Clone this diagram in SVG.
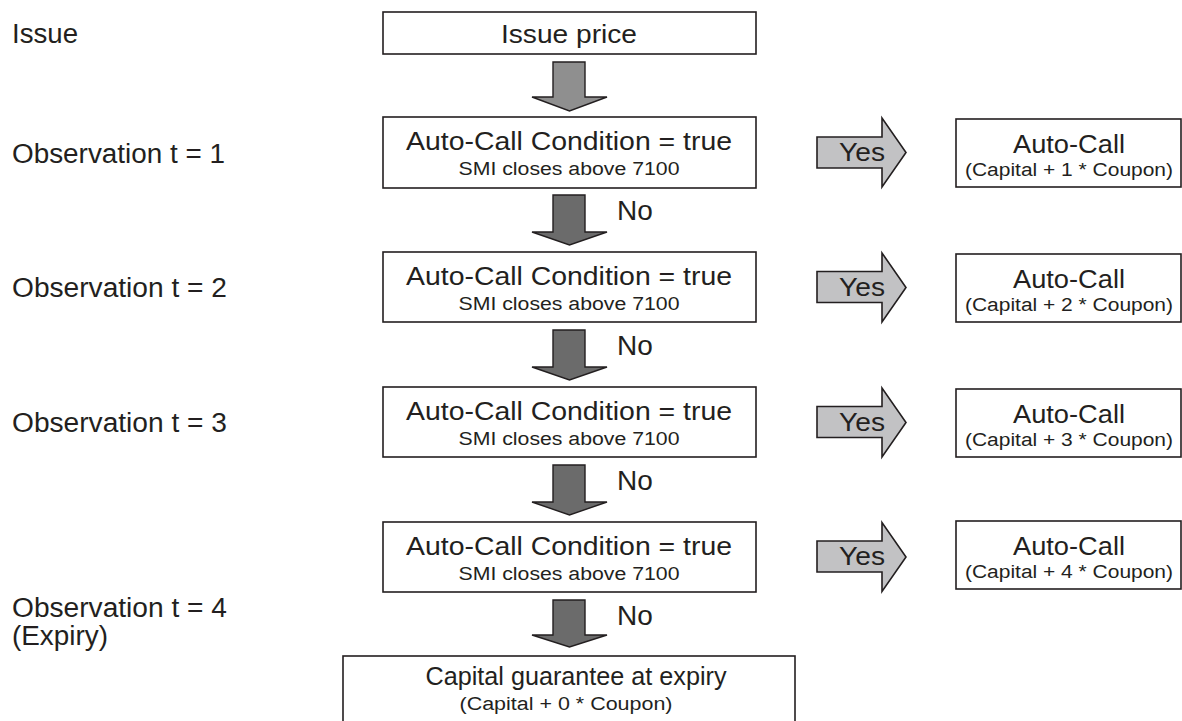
<svg xmlns="http://www.w3.org/2000/svg" width="1182" height="721" viewBox="0 0 1182 721">
<style>
text{font-family:"Liberation Sans",Arial,Helvetica,sans-serif;fill:#231f20}
.lbl{font-size:27px}
.big{font-size:26px;text-anchor:middle}
.sm{font-size:18px;text-anchor:middle}
.box{fill:#fff;stroke:#231f20;stroke-width:1.6}
.dn{fill:#6b6b6b;stroke:#231f20;stroke-width:1.4;stroke-linejoin:miter}
.dn1{fill:#8f8f8f;stroke:#231f20;stroke-width:1.4}
.yes{fill:#c2c2c4;stroke:#231f20;stroke-width:1.6}
.no{font-size:28px}
</style>
<rect width="1182" height="721" fill="#fff"/>
<g id="labels">
<text class="lbl" x="12" y="43" textLength="66" lengthAdjust="spacingAndGlyphs">Issue</text>
<text class="lbl" x="12" y="163" textLength="213" lengthAdjust="spacingAndGlyphs">Observation t = 1</text>
<text class="lbl" x="12" y="297" textLength="215" lengthAdjust="spacingAndGlyphs">Observation t = 2</text>
<text class="lbl" x="12" y="432" textLength="215" lengthAdjust="spacingAndGlyphs">Observation t = 3</text>
<text class="lbl" x="12" y="617" textLength="215" lengthAdjust="spacingAndGlyphs">Observation t = 4</text>
<text class="lbl" x="12" y="645" textLength="96" lengthAdjust="spacingAndGlyphs">(Expiry)</text>
</g>
<g id="issue-price">
<rect class="box" x="383" y="12" width="373" height="42"/>
<text class="big" x="569" y="43" textLength="136" lengthAdjust="spacingAndGlyphs">Issue price</text>
</g>
<g id="cond1">
<rect class="box" x="383" y="117" width="373" height="71"/>
<text class="big" x="569" y="150" textLength="326" lengthAdjust="spacingAndGlyphs">Auto-Call Condition = true</text>
<text class="sm" x="569" y="175" textLength="221" lengthAdjust="spacingAndGlyphs">SMI closes above 7100</text>
</g>
<g id="cond2">
<rect class="box" x="383" y="252" width="373" height="70"/>
<text class="big" x="569" y="285" textLength="326" lengthAdjust="spacingAndGlyphs">Auto-Call Condition = true</text>
<text class="sm" x="569" y="310" textLength="221" lengthAdjust="spacingAndGlyphs">SMI closes above 7100</text>
</g>
<g id="cond3">
<rect class="box" x="383" y="387" width="373" height="70"/>
<text class="big" x="569" y="420" textLength="326" lengthAdjust="spacingAndGlyphs">Auto-Call Condition = true</text>
<text class="sm" x="569" y="445" textLength="221" lengthAdjust="spacingAndGlyphs">SMI closes above 7100</text>
</g>
<g id="cond4">
<rect class="box" x="383" y="522" width="373" height="70"/>
<text class="big" x="569" y="555" textLength="326" lengthAdjust="spacingAndGlyphs">Auto-Call Condition = true</text>
<text class="sm" x="569" y="580" textLength="221" lengthAdjust="spacingAndGlyphs">SMI closes above 7100</text>
</g>
<g id="call1">
<rect class="box" x="956" y="119" width="225" height="68"/>
<text class="big" x="1069" y="153" textLength="112" lengthAdjust="spacingAndGlyphs">Auto-Call</text>
<text class="sm" x="1069" y="176" textLength="208" lengthAdjust="spacingAndGlyphs">(Capital + 1 * Coupon)</text>
</g>
<g id="call2">
<rect class="box" x="956" y="254" width="225" height="68"/>
<text class="big" x="1069" y="288" textLength="112" lengthAdjust="spacingAndGlyphs">Auto-Call</text>
<text class="sm" x="1069" y="311" textLength="208" lengthAdjust="spacingAndGlyphs">(Capital + 2 * Coupon)</text>
</g>
<g id="call3">
<rect class="box" x="956" y="389" width="225" height="68"/>
<text class="big" x="1069" y="423" textLength="112" lengthAdjust="spacingAndGlyphs">Auto-Call</text>
<text class="sm" x="1069" y="446" textLength="208" lengthAdjust="spacingAndGlyphs">(Capital + 3 * Coupon)</text>
</g>
<g id="call4">
<rect class="box" x="956" y="521" width="225" height="68"/>
<text class="big" x="1069" y="555" textLength="112" lengthAdjust="spacingAndGlyphs">Auto-Call</text>
<text class="sm" x="1069" y="578" textLength="208" lengthAdjust="spacingAndGlyphs">(Capital + 4 * Coupon)</text>
</g>
<g id="guarantee">
<rect class="box" x="343" y="656" width="452" height="80"/>
<text class="big" x="576" y="685" textLength="301" lengthAdjust="spacingAndGlyphs">Capital guarantee at expiry</text>
<text class="sm" x="566" y="710" textLength="213" lengthAdjust="spacingAndGlyphs">(Capital + 0 * Coupon)</text>
</g>
<g id="connectors">
<path class="dn1" d="M553,62 H585 V97 H607 L569.5,111 L532,97 H553 Z"/>
<path class="dn" d="M553,195 H585 V232 H607 L569.5,245 L532,232 H553 Z"/>
<path class="dn" d="M553,330 H585 V367 H607 L569.5,380 L532,367 H553 Z"/>
<path class="dn" d="M553,465 H585 V502 H607 L569.5,515 L532,502 H553 Z"/>
<path class="dn" d="M553,600 H585 V635 H607 L569.5,647 L532,635 H553 Z"/>
<text class="no" x="617" y="220">No</text>
<text class="no" x="617" y="355">No</text>
<text class="no" x="617" y="490">No</text>
<text class="no" x="617" y="625">No</text>
<path class="yes" d="M817,137 H882 V118 L906,152.5 L882,187 V168 H817 Z"/>
<path class="yes" d="M817,271.5 H882 V253 L906,287.5 L882,322 V302.5 H817 Z"/>
<path class="yes" d="M817,406.5 H882 V388 L906,422.5 L882,457 V437.5 H817 Z"/>
<path class="yes" d="M817,541 H882 V522.5 L906,557 L882,591.5 V572 H817 Z"/>
<text class="big" x="862" y="161" textLength="46" lengthAdjust="spacingAndGlyphs">Yes</text>
<text class="big" x="862" y="296" textLength="46" lengthAdjust="spacingAndGlyphs">Yes</text>
<text class="big" x="862" y="431" textLength="46" lengthAdjust="spacingAndGlyphs">Yes</text>
<text class="big" x="862" y="565" textLength="46" lengthAdjust="spacingAndGlyphs">Yes</text>
</g>
</svg>
